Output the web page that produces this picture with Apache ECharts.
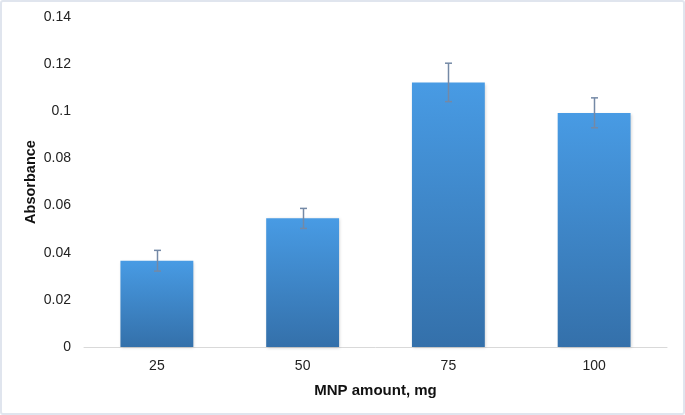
<!DOCTYPE html>
<html>
<head>
<meta charset="utf-8">
<script src="https://cdn.jsdelivr.net/npm/echarts@6/dist/echarts.min.js"></script>
<style>
  html, body { margin: 0; padding: 0; background: #fff; }
  #chart { width: 685px; height: 415px; box-sizing: border-box; border: 2px solid #e0e5ee; border-radius: 3px; }
</style>
</head>
<body>
<div id="chart"></div>
<script>
// MNP amount (mg) vs absorbance
let categories = ['25', '50', '75', '100'];
let absorbance = [0.0366, 0.0546, 0.1122, 0.0993];
let errLow = [0.0322, 0.0503, 0.1041, 0.0930];
let errHigh = [0.0410, 0.0588, 0.1204, 0.1057];

let myChart = echarts.init(document.getElementById('chart'));

let errData = [];
for (let i = 0; i < categories.length; i++) {
    errData.push([i, errLow[i], errHigh[i]]);
}

myChart.setOption({
    animation: false,
    textStyle: { fontFamily: 'Liberation Sans, Arial, sans-serif' },
    grid: { left: 82, right: 16, top: 15, bottom: 66 },
    xAxis: {
        type: 'category',
        data: categories,
        name: 'MNP amount, mg',
        nameLocation: 'middle',
        nameGap: 36,
        nameTextStyle: { fontSize: 15, fontWeight: 'bold', color: '#111' },
        axisLine: { lineStyle: { color: '#d9d9d9', width: 1 } },
        axisTick: { show: false },
        axisLabel: { fontSize: 14, color: '#222', margin: 12 }
    },
    yAxis: {
        type: 'value',
        min: 0,
        max: 0.14,
        interval: 0.02,
        name: 'Absorbance',
        nameLocation: 'middle',
        nameGap: 46,
        nameMoveOverlap: false,
        nameTextStyle: { fontSize: 14.5, fontWeight: 'bold', color: '#111' },
        axisLine: { show: false },
        axisTick: { show: false },
        splitLine: { show: false },
        axisLabel: { fontSize: 14, color: '#222', margin: 13 }
    },
    series: [
        {
            type: 'bar',
            data: absorbance,
            barWidth: '50%',
            itemStyle: {
                color: new echarts.graphic.LinearGradient(0, 0, 0, 1, [
                    { offset: 0, color: '#489be4' },
                    { offset: 1, color: '#3470aa' }
                ]),
                shadowColor: 'rgba(0,0,0,0.18)',
                shadowBlur: 3,
                shadowOffsetX: 1,
                shadowOffsetY: 1
            }
        },
        {
            type: 'custom',
            data: errData,
            z: 10,
            renderItem: function (params, api) {
                let lo = api.coord([api.value(0), api.value(1)]);
                let hi = api.coord([api.value(0), api.value(2)]);
                let x = Math.round(lo[0]) + 0.5;
                let cap = 3.5;
                let style = { stroke: '#7489a6', lineWidth: 1.5 };
                return {
                    type: 'group',
                    children: [
                        { type: 'line', shape: { x1: x, y1: hi[1], x2: x, y2: lo[1] }, style: style },
                        { type: 'line', shape: { x1: x - cap, y1: hi[1], x2: x + cap, y2: hi[1] }, style: style },
                        { type: 'line', shape: { x1: x - cap, y1: lo[1], x2: x + cap, y2: lo[1] }, style: style }
                    ]
                };
            }
        }
    ]
});
</script>
</body>
</html>
